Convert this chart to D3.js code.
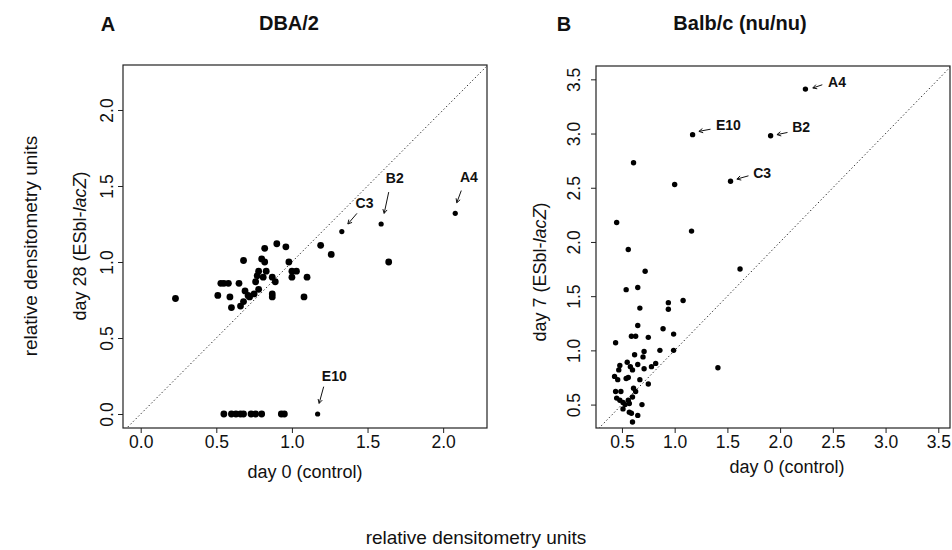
<!DOCTYPE html>
<html>
<head>
<meta charset="utf-8">
<script src="https://cdn.jsdelivr.net/npm/d3@7/dist/d3.min.js"></script>
<style>
  body { margin: 0; background: #fff; }
  text { font-family: "Liberation Sans", Arial, Helvetica, sans-serif; fill: #111; }
</style>
</head>
<body>
<div id="chart"></div>
<script>
/**
 * DATA
 * */
// panel A: DBA/2, day 0 (control) vs day 28
const dbaControl = [0.23, 0.51, 0.53, 0.55, 0.58, 0.59, 0.60, 0.65, 0.66, 0.68, 0.68, 0.69, 0.71, 0.72,
  0.75, 0.76, 0.77, 0.78, 0.78, 0.80, 0.81, 0.82, 0.82, 0.83, 0.87, 0.87, 0.87, 0.89, 0.90, 0.96,
  0.98, 1.00, 1.00, 1.03, 1.08, 1.10, 1.19, 1.26, 1.64,
  0.55, 0.60, 0.63, 0.66, 0.68, 0.73, 0.76, 0.80, 0.93, 0.95];
const dbaDay28 = [0.76, 0.78, 0.86, 0.86, 0.86, 0.77, 0.70, 0.86, 0.71, 0.74, 1.01, 0.81, 0.78, 0.77,
  0.79, 0.87, 0.91, 0.82, 0.94, 1.02, 0.90, 1.09, 1.00, 0.94, 0.90, 0.77, 0.79, 0.87, 1.12, 1.10,
  1.00, 0.90, 0.94, 0.94, 0.77, 0.90, 1.11, 1.05, 1.00,
  0, 0, 0, 0, 0, 0, 0, 0, 0, 0];

// panel B: Balb/c (nu/nu), day 0 (control) vs day 7
const balbControl = [0.61, 1.00, 0.45, 1.16, 0.56, 0.72, 1.62, 0.54, 0.65, 0.67, 0.94, 1.08, 0.94,
  0.65, 0.89, 0.59, 0.63, 0.75, 0.99, 0.44, 0.71, 0.86, 0.99, 0.62, 0.70, 1.41, 0.55, 0.65, 0.82,
  0.78, 0.48, 0.47, 0.58, 0.60, 0.71, 0.43, 0.46, 0.54, 0.56, 0.67, 0.75, 0.44, 0.49, 0.61, 0.63,
  0.45, 0.48, 0.51, 0.56, 0.60, 0.57, 0.53, 0.69, 0.51, 0.57, 0.59, 0.65, 0.60];
const balbDay7 = [2.73, 2.53, 2.18, 2.10, 1.93, 1.73, 1.75, 1.56, 1.58, 1.39, 1.44, 1.46, 1.38,
  1.23, 1.20, 1.13, 1.13, 1.12, 1.15, 1.07, 0.99, 1.00, 1.00, 0.96, 0.94, 0.84, 0.89, 0.87, 0.88,
  0.85, 0.86, 0.82, 0.85, 0.82, 0.83, 0.76, 0.73, 0.74, 0.75, 0.73, 0.69, 0.62, 0.62, 0.65, 0.62,
  0.56, 0.54, 0.52, 0.54, 0.57, 0.51, 0.50, 0.50, 0.46, 0.43, 0.42, 0.40, 0.34];

// labelled clones
const cloneNames = ["A4", "B2", "C3", "E10"];
const dbaCloneX = [2.08, 1.59, 1.33, 1.17];
const dbaCloneY = [1.32, 1.25, 1.20, 0.00];
const balbCloneX = [2.24, 1.91, 1.53, 1.17];
const balbCloneY = [3.41, 2.98, 2.56, 2.99];

// label text position, arrow tail and arrow head, in data units
const dbaLabelX = [2.17, 1.68, 1.48, 1.28];
const dbaLabelY = [1.56, 1.55, 1.39, 0.25];
const dbaTailX = [2.12, 1.64, 1.43, 1.21];
const dbaTailY = [1.47, 1.46, 1.32, 0.18];
const dbaHeadX = [2.09, 1.61, 1.37, 1.18];
const dbaHeadY = [1.39, 1.32, 1.25, 0.07];

const balbLabelX = [2.54, 2.20, 1.83, 1.51];
const balbLabelY = [3.48, 3.06, 2.64, 3.08];
const balbTailX = [2.40, 2.07, 1.70, 1.34];
const balbTailY = [3.45, 3.01, 2.61, 3.04];
const balbHeadX = [2.31, 1.97, 1.59, 1.23];
const balbHeadY = [3.42, 2.99, 2.58, 3.02];

const dbaTicks = [0, 0.5, 1.0, 1.5, 2.0];
const balbTicks = [0.5, 1.0, 1.5, 2.0, 2.5, 3.0, 3.5];

/**
 * LAYOUT
 * */
const width = 952, height = 550;

const svg = d3.select("#chart")
  .append("svg")
  .attr("width", width)
  .attr("height", height);

const defs = svg.append("defs");

function panel(opt) {
  const x = d3.scaleLinear().domain(opt.xDomain).range([opt.left, opt.right]);
  const y = d3.scaleLinear().domain(opt.yDomain).range([opt.bottom, opt.top]);

  const g = svg.append("g");

  defs.append("clipPath").attr("id", opt.id)
    .append("rect")
    .attr("x", opt.left).attr("y", opt.top)
    .attr("width", opt.right - opt.left).attr("height", opt.bottom - opt.top);

  // diagonal y = x
  const lo = Math.max(opt.xDomain[0], opt.yDomain[0]) - 0.2;
  const hi = Math.min(opt.xDomain[1], opt.yDomain[1]) + 0.2;
  g.append("line")
    .attr("clip-path", `url(#${opt.id})`)
    .attr("x1", x(lo)).attr("y1", y(lo))
    .attr("x2", x(hi)).attr("y2", y(hi))
    .attr("stroke", "#222")
    .attr("stroke-width", 1)
    .attr("stroke-dasharray", "1.3,2.4");

  // box
  g.append("rect")
    .attr("x", opt.left).attr("y", opt.top)
    .attr("width", opt.right - opt.left).attr("height", opt.bottom - opt.top)
    .attr("fill", "none")
    .attr("stroke", "#222")
    .attr("stroke-width", 1.2);

  // axes
  const xAxis = g.append("g")
    .attr("transform", `translate(0,${opt.bottom})`)
    .call(d3.axisBottom(x).tickValues(opt.ticks).tickFormat(d3.format(".1f")).tickSize(5).tickSizeOuter(0));
  xAxis.select(".domain").remove();
  xAxis.selectAll("line").attr("stroke", "#222");
  xAxis.selectAll("text")
    .attr("y", opt.xLabelGap)
    .attr("dy", 0)
    .style("font-size", "17.5px");

  const yAxis = g.append("g")
    .attr("transform", `translate(${opt.left},0)`)
    .call(d3.axisLeft(y).tickValues(opt.ticks).tickFormat(d3.format(".1f")).tickSize(5).tickSizeOuter(0));
  yAxis.select(".domain").remove();
  yAxis.selectAll("line").attr("stroke", "#222");
  yAxis.selectAll("text")
    .attr("transform", "rotate(-90)")
    .attr("x", 0)
    .attr("y", -opt.yLabelGap)
    .attr("dy", 0)
    .attr("text-anchor", "middle")
    .style("font-size", "17.5px");

  // points
  g.append("g")
    .selectAll("circle")
    .data(opt.xs.map((v, i) => [v, opt.ys[i]]))
    .join("circle")
    .attr("cx", d => x(d[0]))
    .attr("cy", d => y(d[1]))
    .attr("r", opt.r)
    .attr("fill", "#000");

  // labelled clones
  const lab = cloneNames.map((name, i) => ({
    name,
    px: opt.cloneX[i], py: opt.cloneY[i],
    lx: opt.labelX[i], ly: opt.labelY[i],
    tx: opt.tailX[i], ty: opt.tailY[i],
    hx: opt.headX[i], hy: opt.headY[i]
  }));

  const lg = g.append("g").selectAll("g").data(lab).join("g");

  lg.append("circle")
    .attr("cx", d => x(d.px))
    .attr("cy", d => y(d.py))
    .attr("r", opt.rClone)
    .attr("fill", "#000");

  lg.append("path")
    .attr("fill", "none")
    .attr("stroke", "#111")
    .attr("stroke-width", 1)
    .attr("d", d => {
      const x1 = x(d.tx), y1 = y(d.ty), x2 = x(d.hx), y2 = y(d.hy);
      const a = Math.atan2(y2 - y1, x2 - x1), L = 4.5, w = 0.5;
      const p1 = [x2 - L * Math.cos(a - w), y2 - L * Math.sin(a - w)];
      const p2 = [x2 - L * Math.cos(a + w), y2 - L * Math.sin(a + w)];
      return `M${x1},${y1}L${x2},${y2}M${p1[0]},${p1[1]}L${x2},${y2}L${p2[0]},${p2[1]}`;
    });

  lg.append("text")
    .attr("x", d => x(d.lx))
    .attr("y", d => y(d.ly))
    .attr("dy", "0.36em")
    .attr("text-anchor", "middle")
    .style("font-size", "14px")
    .style("font-weight", "bold")
    .text(d => d.name);

  // titles
  svg.append("text")
    .attr("x", opt.letterX).attr("y", 31)
    .attr("text-anchor", "middle")
    .style("font-size", "20px").style("font-weight", "bold")
    .text(opt.letter);
  svg.append("text")
    .attr("x", opt.titleX).attr("y", 30)
    .attr("text-anchor", "middle")
    .style("font-size", "20px").style("font-weight", "bold")
    .text(opt.title);

  // axis titles
  svg.append("text")
    .attr("x", (opt.left + opt.right) / 2 + opt.xTitleShift)
    .attr("y", opt.xTitleY)
    .attr("text-anchor", "middle")
    .style("font-size", "18px")
    .text("day 0 (control)");

  const yt = svg.append("text")
    .attr("transform", `translate(${opt.yTitleX},${opt.yTitleY}) rotate(-90)`)
    .attr("text-anchor", "middle")
    .style("font-size", "18px");
  yt.append("tspan").text(opt.yTitle + " (ESbl-");
  yt.append("tspan").style("font-style", "italic").text("lacZ");
  yt.append("tspan").text(")");
}

panel({
  id: "clipA",
  left: 123, right: 487, top: 65, bottom: 428,
  xDomain: [-0.117, 2.29], yDomain: [-0.092, 2.296],
  ticks: dbaTicks,
  xs: dbaControl, ys: dbaDay28, r: 3.4, rClone: 2.6,
  cloneX: dbaCloneX, cloneY: dbaCloneY,
  labelX: dbaLabelX, labelY: dbaLabelY,
  tailX: dbaTailX, tailY: dbaTailY, headX: dbaHeadX, headY: dbaHeadY,
  xLabelGap: 20, yLabelGap: 10,
  letter: "A", letterX: 108, title: "DBA/2", titleX: 289,
  xTitleShift: 0, xTitleY: 478,
  yTitle: "day 28", yTitleX: 86, yTitleY: 246
});

panel({
  id: "clipB",
  left: 596, right: 950, top: 66, bottom: 428,
  xDomain: [0.254, 3.611], yDomain: [0.284, 3.623],
  ticks: balbTicks,
  xs: balbControl, ys: balbDay7, r: 2.7, rClone: 2.7,
  cloneX: balbCloneX, cloneY: balbCloneY,
  labelX: balbLabelX, labelY: balbLabelY,
  tailX: balbTailX, tailY: balbTailY, headX: balbHeadX, headY: balbHeadY,
  xLabelGap: 20, yLabelGap: 16,
  letter: "B", letterX: 564, title: "Balb/c (nu/nu)", titleX: 740,
  xTitleShift: 14, xTitleY: 473,
  yTitle: "day 7", yTitleX: 546, yTitleY: 272
});

// shared axis titles
svg.append("text")
  .attr("x", 476).attr("y", 544)
  .attr("text-anchor", "middle")
  .style("font-size", "19px")
  .text("relative densitometry units");

svg.append("text")
  .attr("transform", "translate(37,246) rotate(-90)")
  .attr("text-anchor", "middle")
  .style("font-size", "19px")
  .text("relative densitometry units");
</script>
</body>
</html>
